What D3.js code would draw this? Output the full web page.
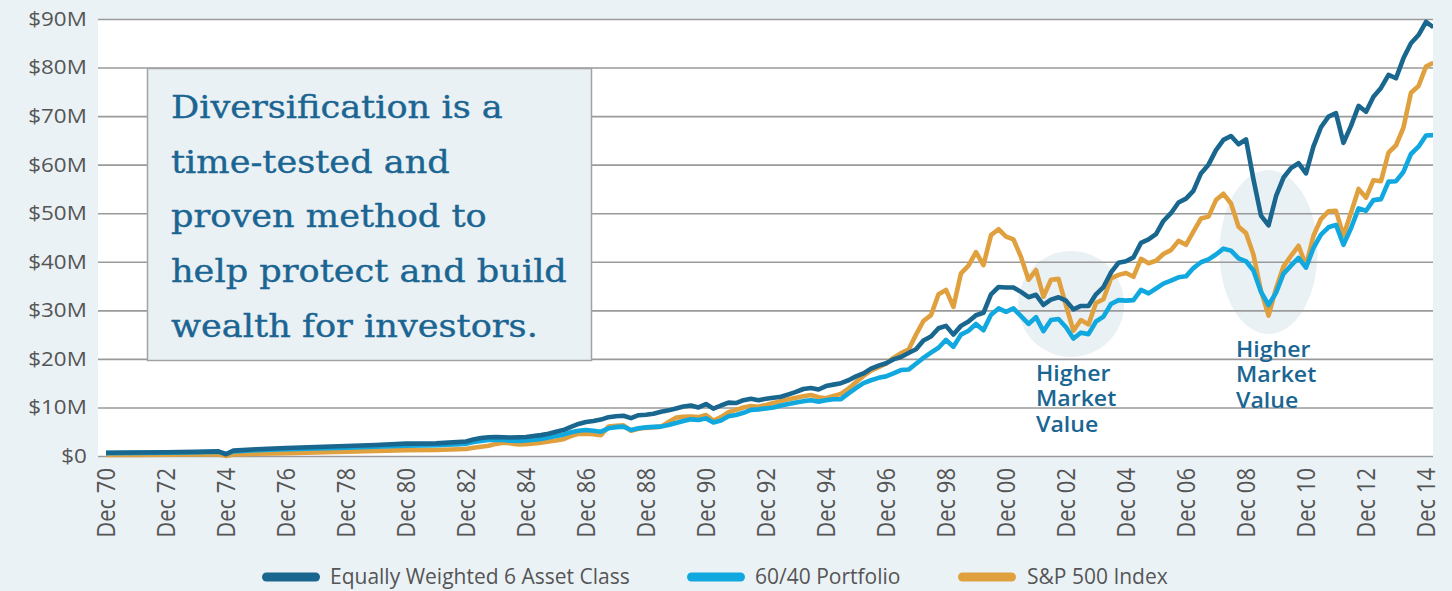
<!DOCTYPE html>
<html>
<head>
<meta charset="utf-8">
<script src="https://cdn.jsdelivr.net/npm/d3@7"></script>
<style>
  html, body { margin: 0; padding: 0; background: #ebf2f6; }
  svg { display: block; }
</style>
</head>
<body>
<svg id="chart" width="1452" height="591"></svg>
<script>
// dates: yearly points for the flat early years, then quarterly from Mar 83
const earlyDates = ["1970-12", "1971-12", "1972-12", "1973-12", "1974-09", "1974-12", "1975-03",
  "1975-12", "1976-12", "1977-12", "1978-12", "1979-12", "1980-12", "1981-12", "1982-12"]
const firstQuarter = "1983-03"
const lastQuarter = "2015-03"

// values in $M
const equalWeighted = [0.68, 0.72, 0.78, 0.85, 0.95, 0.35, 1.1, 1.4, 1.65, 1.85, 2.05, 2.25, 2.55, 2.6, 3.0,
  3.4, 3.7, 3.85, 3.9,  3.85, 3.8, 3.85, 3.9,  4.1, 4.3, 4.6, 5.0,  5.35, 6.0, 6.6, 7.0,
  7.2, 7.5, 8.0, 8.2,  8.3, 7.8, 8.4, 8.5,  8.7, 9.1, 9.4, 9.8,  10.2, 10.4, 10.0, 10.7,
  9.75, 10.4, 11.0, 10.9,  11.5, 11.8, 11.5, 11.8,  12.0, 12.2, 12.7, 13.2,  13.8, 14.0, 13.7, 14.4,
  14.7, 15.0, 15.6, 16.4,  17.0, 18.0, 18.6, 19.1,  19.9, 20.4, 21.2, 22.0,  23.8, 24.6, 26.3, 26.8,
  25.0, 26.8, 27.7, 29.0,  29.5, 33.3, 34.8, 34.7,  34.7, 33.8, 32.7, 33.2,  31.1, 32.2, 32.7, 32.0,
  30.2, 30.9, 30.9, 33.3,  34.8, 37.8, 39.8, 40.1,  40.9, 43.9, 44.6, 45.7,  48.4, 50.0, 52.2, 53.0,
  54.6, 58.2, 60.0, 63.0,  65.1, 65.9, 64.2, 65.2,  57.0, 49.5, 47.5, 53.5,  57.3, 59.3, 60.3, 58.2,
  63.7, 67.7, 69.9, 70.6,  64.5, 68.0, 72.1, 70.9,  74.0, 75.8, 78.5, 77.8,  81.9, 85.0, 86.7, 89.4,
  88.3]

const portfolio6040 = [0.6, 0.64, 0.69, 0.76, 0.85, 0.45, 0.95, 1.2, 1.4, 1.55, 1.7, 1.9, 2.1, 2.2, 2.5,
  2.9, 3.1, 3.3, 3.35,  3.3, 3.15, 3.1, 3.2,  3.35, 3.5, 3.8, 4.1,  4.4, 4.9, 5.2, 5.35,
  5.2, 5.0, 5.7, 5.95,  6.05, 5.35, 5.7, 5.9,  6.0, 6.05, 6.4, 6.8,  7.2, 7.55, 7.4, 7.75,
  6.9, 7.3, 8.2, 8.45,  8.9, 9.5, 9.6, 9.8,  10.0, 10.4, 10.7, 11.0,  11.3, 11.5, 11.2, 11.5,
  11.7, 11.7, 12.9, 14.0,  15.0, 15.6, 16.1, 16.4,  17.0, 17.7, 17.8, 19.0,  20.2, 21.3, 22.3, 23.9,
  22.5, 25.0, 25.8, 27.2,  25.9, 29.1, 30.4, 29.7,  30.4, 28.8, 27.2, 28.6,  25.7, 28.0, 28.2, 26.5,
  24.2, 25.4, 25.1, 27.7,  28.7, 31.3, 32.1, 32.0,  32.1, 34.2, 33.5, 34.5,  35.5, 36.1, 36.8, 37.0,
  38.7, 39.9, 40.5, 41.5,  42.7, 42.3, 40.7, 40.1,  38.2, 33.8, 31.1, 33.6,  37.5, 39.2, 40.8, 38.8,
  42.8, 45.6, 47.1, 47.6,  43.5, 46.9, 51.0, 50.5,  52.7, 52.9, 56.5, 56.6,  58.5, 62.2, 63.7, 66.0,
  66.1]

const sp500 = [0.2, 0.24, 0.28, 0.33, 0.35, 0.0, 0.3, 0.45, 0.6, 0.75, 0.9, 1.05, 1.2, 1.25, 1.45,
  1.7, 1.9, 2.1, 2.5,  2.75, 2.6, 2.4, 2.45,  2.6, 2.75, 3.0, 3.2,  3.45, 4.1, 4.55, 4.6,
  4.5, 4.3, 6.05, 6.2,  6.3, 5.2, 5.6, 5.8,  5.9, 6.05, 7.0, 7.9,  8.05, 8.1, 8.0, 8.45,
  7.3, 8.0, 9.0, 9.5,  10.0, 10.3, 10.15, 10.5,  10.9, 11.3, 11.7, 12.0,  12.3, 12.55, 12.1, 11.9,
  12.35, 12.8, 13.9, 15.2,  16.5, 17.6, 18.3, 19.0,  20.2, 21.2, 21.9, 25.0,  27.8, 29.0, 33.3, 34.2,
  30.7, 37.6, 39.2, 42.0,  39.3, 45.5, 46.7, 45.2,  44.6, 41.0, 36.3, 38.3,  32.8, 36.3, 36.5, 31.0,
  25.8, 28.0, 27.1, 31.5,  32.3, 36.6, 37.3, 37.7,  36.9, 40.6, 39.7, 40.2,  41.6, 42.4, 44.3, 43.5,
  46.2, 48.9, 49.3, 52.7,  54.0, 52.0, 47.2, 45.9,  41.5, 34.0, 28.9, 34.5,  39.0, 41.2, 43.3, 39.2,
  45.3, 48.8, 50.4, 50.5,  45.4, 50.1, 55.0, 53.2,  56.8, 56.6, 62.5, 64.0,  67.6, 74.8, 76.2, 80.2,
  81.0]

const seriesNames = ["Equally Weighted 6 Asset Class", "60/40 Portfolio", "S&P 500 Index"]
const yTicks = [0, 10, 20, 30, 40, 50, 60, 70, 80, 90]
const boxLines = ["Diversification is a", "time-tested and", "proven method to",
  "help protect and build", "wealth for investors."]
const calloutLines = ["Higher", "Market", "Value"]

const COLORS = ["#19668f", "#10a8df", "#e0a03e"]
const TEXT_BLUE = "#1b6592"
const GREY_TEXT = "#555"
const PANEL = "#eaf1f5"

const parse = d3.timeParse("%Y-%m")
const dates = earlyDates.map(parse)
  .concat(d3.timeMonth.range(parse(firstQuarter), d3.timeMonth.offset(parse(lastQuarter), 1), 3))

const svg = d3.select("#chart")
const plotLeft = 98, plotRight = 1433, plotTop = 19, plotBottom = 456

const x = d3.scaleTime()
  .domain([parse("1970-12"), parse("2014-12")])
  .range([106, 1426])
const y = d3.scaleLinear().domain([0, 90]).range([plotBottom, plotTop])

// plot background
svg.append("rect")
  .attr("x", plotLeft).attr("y", plotTop)
  .attr("width", plotRight - plotLeft).attr("height", plotBottom - plotTop)
  .attr("fill", "#fff")

// highlight ellipses
const callouts = [
  { cx: parse("2003-02"), cy: 31.3, rx: 53, ry: 53, tx: 1036, ty: 381 },
  { cx: parse("2009-09"), cy: 42.0, rx: 49, ry: 82, tx: 1236, ty: 357 }
]
svg.selectAll(".hl")
  .data(callouts)
  .join("ellipse")
  .attr("class", "hl")
  .attr("cx", d => x(d.cx)).attr("cy", d => y(d.cy))
  .attr("rx", d => d.rx).attr("ry", d => d.ry)
  .attr("fill", PANEL)

// grid + y labels
const yAxis = svg.append("g")
  .attr("transform", `translate(${plotLeft},0)`)
  .call(d3.axisLeft(y).tickValues(yTicks).tickSize(-(plotRight - plotLeft)).tickPadding(10)
    .tickFormat(d => d === 0 ? "$0" : `$${d}M`))
yAxis.select(".domain").remove()
yAxis.selectAll(".tick line").attr("stroke", "#9a9a9a").attr("stroke-width", 1.6)
yAxis.selectAll(".tick text")
  .attr("fill", GREY_TEXT)
  .attr("font-family", "Open Sans")
  .attr("font-size", 20)
  .attr("transform", "scale(1.12,1)")

// text box
svg.append("rect")
  .attr("x", 147.5).attr("y", 68.5)
  .attr("width", 444).attr("height", 292)
  .attr("fill", PANEL)
  .attr("stroke", "#a3a3a3").attr("stroke-width", 1.5)

const boxText = svg.append("text")
  .attr("font-family", "DejaVu Serif")
  .attr("font-size", 32)
  .attr("fill", TEXT_BLUE)
  .attr("stroke", TEXT_BLUE)
  .attr("stroke-width", 0.4)
boxText.selectAll("tspan")
  .data(boxLines)
  .join("tspan")
  .attr("x", 0)
  .attr("y", (d, i) => i * 54.7)
  .text(d => d)
const widest = boxText.selectAll("tspan").filter((d, i) => i === 3).node().getComputedTextLength()
boxText.attr("transform", `translate(171,118) scale(${396 / widest},1)`)

// lines, S&P drawn first so the dark series sits on top
const series = [equalWeighted, portfolio6040, sp500]
svg.append("clipPath").attr("id", "plot-clip")
  .append("rect").attr("x", plotLeft).attr("y", 0).attr("width", plotRight - plotLeft).attr("height", plotBottom + 10)

const line = d3.line()
  .x((d, i) => x(dates[i]))
  .y(d => y(d))

svg.append("g").attr("clip-path", "url(#plot-clip)")
  .selectAll("path")
  .data([2, 1, 0])
  .join("path")
  .attr("fill", "none")
  .attr("stroke", k => COLORS[k])
  .attr("stroke-width", 4.6)
  .attr("stroke-linejoin", "round")
  .attr("d", k => line(series[k]))

// callout labels
callouts.forEach(c => {
  svg.append("text")
    .attr("transform", `translate(${c.tx},${c.ty}) scale(1.1,1)`)
    .attr("font-family", "Open Sans")
    .attr("font-weight", 600)
    .attr("font-size", 21)
    .attr("fill", TEXT_BLUE)
    .selectAll("tspan")
    .data(calloutLines)
    .join("tspan")
    .attr("x", 0)
    .attr("y", (d, i) => i * 25.5)
    .text(d => d)
})

// x axis labels
const xTicks = d3.timeMonth.range(parse("1970-12"), parse("2015-01"), 24)
const xAxis = svg.append("g")
  .attr("transform", `translate(0,${plotBottom})`)
  .call(d3.axisBottom(x).tickValues(xTicks).tickSize(0).tickFormat(d3.timeFormat("%b %y")))
xAxis.select(".domain").remove()
xAxis.selectAll(".tick text")
  .attr("fill", GREY_TEXT)
  .attr("font-family", "Open Sans")
  .attr("font-size", 22)
  .attr("text-anchor", "end")
  .attr("x", 0).attr("y", 0)
  .attr("dy", "0.35em")
  .attr("transform", "translate(0,12) scale(1.12,1) rotate(-90)")

// legend
const legendX = [262, 687, 958]
const legend = svg.append("g")
  .selectAll("g")
  .data(seriesNames)
  .join("g")
  .attr("transform", (d, i) => `translate(${legendX[i]},577)`)
legend.append("line")
  .attr("x1", 4.5).attr("x2", 53.5)
  .attr("stroke", (d, i) => COLORS[i])
  .attr("stroke-width", 9)
  .attr("stroke-linecap", "round")
legend.append("text")
  .attr("x", (d, i) => i === 2 ? 69 : 68)
  .attr("dy", "0.35em")
  .attr("font-family", "Open Sans")
  .attr("font-size", 21)
  .attr("fill", GREY_TEXT)
  .text(d => d)
</script>
</body>
</html>
